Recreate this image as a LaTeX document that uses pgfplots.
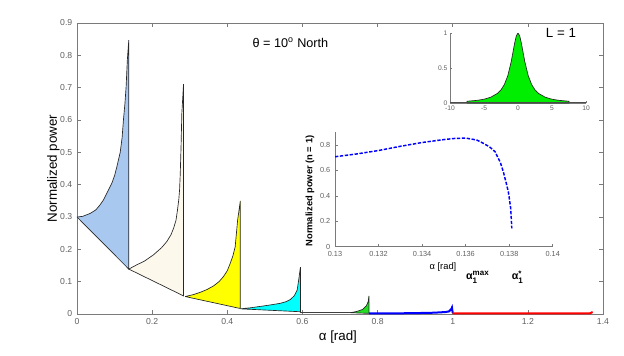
\documentclass[border=0pt]{standalone}
\usepackage{amsmath}
\usepackage{fontspec}
\setmainfont{Liberation Sans}
\usepackage{pgfplots}
\pgfplotsset{compat=1.18}
\definecolor{axgray}{HTML}{7A7A7A}
\definecolor{tickgray}{HTML}{606060}
\definecolor{lobeblue}{HTML}{A8C8F0}
\definecolor{lobecream}{HTML}{FDF8EC}
\definecolor{lobeyellow}{HTML}{FFFF00}
\definecolor{lobecyan}{HTML}{00FFFF}
\definecolor{lobegreen}{HTML}{22DD22}
\definecolor{insetgreen}{HTML}{00EE00}
\begin{document}
\begin{tikzpicture}
\useasboundingbox (0,0) rectangle (468pt,266.25pt);
% ---------- main axis ----------
\begin{axis}[
  at={(57.75pt,30.75pt)}, anchor=south west,
  scale only axis, width=394.5pt, height=218.25pt,
  xmin=0, xmax=1.4, ymin=0, ymax=0.9,
  xtick={0,0.2,...,1.4}, ytick={0,0.1,...,0.9},
  xticklabels={0,0.2,0.4,0.6,0.8,1,1.2,1.4},
  yticklabels={0,0.1,0.2,0.3,0.4,0.5,0.6,0.7,0.8,0.9},
  tick align=inside, major tick length=3pt,
  axis line style={axgray}, every tick/.style={axgray},
  tick label style={font=\fontsize{6.5}{7}\selectfont, text=tickgray},
  /pgf/number format/assume math mode=true,
  xlabel={α [rad]}, ylabel={Normalized power},
  label style={font=\fontsize{10}{11}\selectfont},
  xlabel style={at={(axis description cs:0.496,-0.079)}, anchor=center},
  ylabel style={at={(axis description cs:-0.045,0.5)}, anchor=center, rotate=0},
  clip=false,
]
\addplot[fill=lobeblue, draw=black!85, line width=0.5pt] coordinates {
 (0,0.300) (0.015,0.302) (0.035,0.311) (0.05,0.322) (0.061,0.337) (0.07,0.352)
 (0.079,0.373) (0.0925,0.404) (0.1,0.428) (0.106,0.455) (0.115,0.5) (0.12,0.545)
 (0.1236,0.6) (0.1275,0.65) (0.1307,0.703) (0.134,0.786) (0.1378,0.847)
 (0.1378,0.139) (0,0.300)};
\addplot[fill=lobecream, draw=black!85, line width=0.5pt] coordinates {
 (0.1378,0.139) (0.159,0.152) (0.18,0.164) (0.2035,0.183) (0.225,0.205) (0.239,0.224)
 (0.25,0.245) (0.257,0.265) (0.2635,0.29) (0.2675,0.322) (0.271,0.355) (0.273,0.384)
 (0.2747,0.43) (0.277,0.52) (0.279,0.62) (0.2835,0.711) (0.2835,0.056) (0.1378,0.139)};
\addplot[fill=lobeyellow, draw=black!85, line width=0.5pt] coordinates {
 (0.288,0.054) (0.31,0.06) (0.328,0.067) (0.3465,0.076) (0.3635,0.087) (0.378,0.1)
 (0.39,0.116) (0.4,0.134) (0.408,0.157) (0.415,0.18) (0.421,0.208) (0.4275,0.29)
 (0.4347,0.35) (0.4347,0.017) (0.288,0.054)};
\addplot[fill=lobecyan, draw=black!85, line width=0.5pt] coordinates {
 (0.4347,0.016) (0.46,0.019) (0.497,0.025) (0.52,0.029) (0.541,0.033) (0.556,0.038)
 (0.568,0.045) (0.578,0.056) (0.586,0.074) (0.59,0.105) (0.5947,0.145)
 (0.5947,0.007) (0.4347,0.016)};
\addplot[black!75, line width=0.8pt] coordinates {(0.5947,0.004) (0.65,0.004) (0.728,0.004)};
\addplot[fill=lobegreen, draw=black!85, line width=0.5pt] coordinates {
 (0.728,0.004) (0.745,0.008) (0.76,0.014) (0.77,0.025) (0.775,0.038) (0.777,0.056)
 (0.777,0.002) (0.728,0.004)};
\addplot[blue, line width=1.5pt] coordinates {
 (0.777,0.002) (0.85,0.002) (0.91,0.003) (0.95,0.004) (0.98,0.006) (0.99,0.008)
 (0.996,0.015) (0.998,0.02) (1.0,0.003)};
\addplot[red, line width=1.5pt] coordinates {
 (1.0,0.002) (1.2,0.002) (1.365,0.002) (1.37,0.005) (1.3725,0.006)};
\node[font=\fontsize{9.5}{10}\selectfont] at (axis cs:0.568,0.838) {θ = 10\textsuperscript{o} North};
\node[font=\fontsize{10}{11}\selectfont] at (axis cs:1.288,0.869) {L = 1};
\node[font=\fontsize{8}{9}\selectfont] at (axis cs:1.0667,0.114)
  {$\text{\bfseries α}_{\text{\bfseries 1}}^{\text{\bfseries max}}$};
\node[font=\fontsize{8}{9}\selectfont] at (axis cs:1.173,0.114)
  {$\text{\bfseries α}_{\text{\bfseries 1}}^{\text{\bfseries *}}$};
\end{axis}
% ---------- inset 1 : L = 1 ----------
\begin{axis}[
  at={(337.5pt,189pt)}, anchor=south west,
  scale only axis, width=102pt, height=52.5pt,
  xmin=-10, xmax=10, ymin=0, ymax=1,
  axis x line*=bottom, axis y line*=left,
  xtick={-10,-5,0,5,10}, ytick={0,0.5,1},
  xticklabels={-10,-5,0,5,10}, yticklabels={0,0.5,1},
  tick align=inside, major tick length=1.5pt,
  axis line style={axgray}, every tick/.style={axgray},
  tick label style={font=\fontsize{5}{6}\selectfont, text=tickgray},
  xticklabel style={yshift=1.5pt}, yticklabel style={xshift=1.5pt},
  /pgf/number format/assume math mode=true,
]
\addplot[fill=insetgreen, draw=black!85, line width=0.5pt] coordinates {
 (-7.5,0) (-7.5,0.025) (-6,0.038) (-5,0.054) (-4,0.083) (-3,0.138) (-2.5,0.187)
 (-2,0.265) (-1.5,0.39) (-1,0.59) (-0.5,0.852) (-0.25,0.958) (0,1)
 (0.25,0.958) (0.5,0.852) (1,0.59) (1.5,0.39) (2,0.265) (2.5,0.187) (3,0.138)
 (4,0.083) (5,0.054) (6,0.038) (7.5,0.025) (7.5,0) (-7.5,0)};
\addplot[black!70, line width=1pt] coordinates {(-10,0.005) (10,0.005)};
\end{axis}
% ---------- inset 2 : n = 1 ----------
\begin{axis}[
  at={(251.25pt,81.2pt)}, anchor=south west,
  scale only axis, width=163.3pt, height=85.8pt,
  xmin=0.13, xmax=0.14, ymin=0, ymax=0.9,
  axis x line*=bottom, axis y line*=left,
  xtick={0.13,0.132,0.134,0.136,0.138,0.14}, ytick={0,0.2,0.4,0.6,0.8},
  xticklabels={0.13,0.132,0.134,0.136,0.138,0.14}, yticklabels={0,0.2,0.4,0.6,0.8},
  tick align=inside, major tick length=2pt,
  axis line style={axgray}, every tick/.style={axgray},
  tick label style={font=\fontsize{5.5}{6}\selectfont, text=tickgray},
  /pgf/number format/assume math mode=true,
  xlabel={α [rad]}, ylabel={\bfseries Normalized power (n = 1)},
  xlabel style={font=\fontsize{7}{8}\selectfont, at={(axis description cs:0.496,-0.177)}, anchor=center},
  ylabel style={font=\fontsize{7}{8}\selectfont, at={(axis description cs:-0.115,0.487)}, anchor=center},
  scaled x ticks=false,
]
\addplot[blue, line width=1.1pt, dash pattern=on 2.5pt off 1.2pt] coordinates {
 (0.1300,0.708) (0.1310,0.730) (0.1320,0.757) (0.1330,0.790) (0.1340,0.820)
 (0.1350,0.843) (0.1355,0.852) (0.1360,0.855) (0.1365,0.840) (0.1368,0.815)
 (0.1371,0.785) (0.13735,0.748) (0.1376,0.66) (0.13773,0.59) (0.13785,0.51)
 (0.13796,0.433) (0.13807,0.302) (0.13812,0.145)};
\end{axis}
\end{tikzpicture}
\end{document}
